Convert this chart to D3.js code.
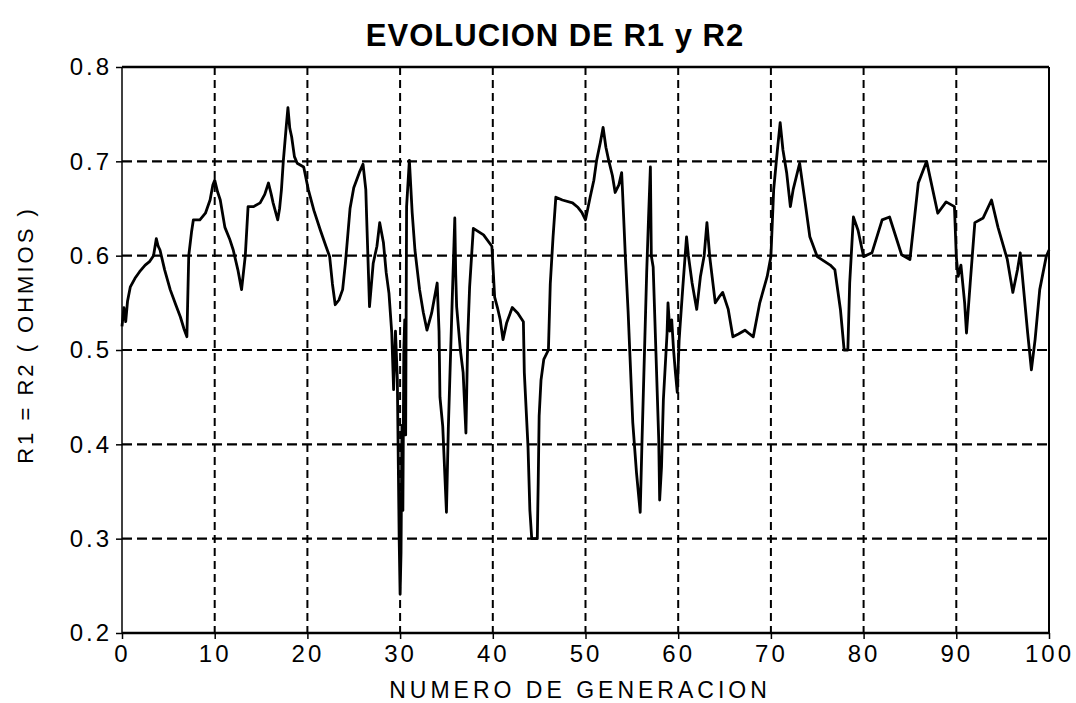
<!DOCTYPE html>
<html>
<head>
<meta charset="utf-8">
<script src="https://cdn.jsdelivr.net/npm/d3@7"></script>
<style>
  body { margin: 0; background: #fff; }
  svg { display: block; }
  .tick text { font-family: "Liberation Sans", Arial, sans-serif; font-size: 24px; letter-spacing: 3px; fill: #000; }
</style>
</head>
<body>
<div id="chart"></div>
<script>
// generacion (eje x) y valor R1 = R2 en ohmios
const gen = [
  0, 0.2, 0.4, 0.6, 0.9, 1.4, 1.9, 2.5, 3.0, 3.4, 3.7, 3.9, 4.1, 4.6, 5.2, 5.8, 6.3, 6.7, 7.0, 7.2,
  7.5, 7.7, 8.4, 9.0, 9.5, 9.8, 10.0, 10.3, 10.6, 11.1, 11.6, 12.0, 12.5, 12.9, 13.3, 13.6, 14.2, 14.9, 15.4, 15.8,
  16.1, 16.3, 16.8, 17.0, 17.2, 17.4, 17.7, 17.9, 18.1, 18.3, 18.6, 18.9, 19.6, 20.1, 20.7, 21.4, 22.0, 22.4, 22.7, 23.0,
  23.4, 23.8, 24.1, 24.6, 25.0, 25.6, 26.0, 26.3, 26.4, 26.7, 27.1, 27.5, 27.8, 28.2, 28.5, 28.8, 29.1, 29.3, 29.5, 29.7,
  29.9, 30.0, 30.1, 30.2, 30.3, 30.4, 30.5, 30.6, 30.7, 31.0, 31.3, 31.6, 32.1, 32.5, 32.9, 33.4, 34.0, 34.2, 34.3, 34.6,
  35.0, 35.2, 35.6, 35.9, 36.0, 36.1, 36.5, 36.8, 37.1, 37.3, 37.5, 37.9, 39.0, 39.9, 40.2, 40.5, 40.8, 41.1, 41.5, 42.1,
  42.7, 43.3, 43.4, 43.8, 44.0, 44.2, 44.8, 44.9, 45.0, 45.2, 45.5, 46.0, 46.2, 46.5, 46.8, 47.5, 48.6, 49.2, 49.6, 50.0,
  50.5, 50.9, 51.2, 51.6, 51.9, 52.2, 52.5, 52.9, 53.2, 53.6, 53.9, 54.0, 54.3, 54.6, 54.8, 55.1, 55.5, 55.9, 56.1, 56.4,
  56.6, 56.8, 57.0, 57.1, 57.3, 57.6, 57.9, 58.0, 58.2, 58.4, 58.8, 58.9, 59.1, 59.3, 59.5, 59.7, 59.9, 60.1, 60.2, 60.5,
  60.9, 61.1, 61.5, 62.0, 62.4, 62.8, 63.1, 63.4, 64.0, 64.4, 64.8, 65.4, 65.9, 66.5, 67.2, 67.7, 68.1, 68.8, 69.6, 70.0,
  70.3, 70.7, 71.0, 71.3, 71.7, 72.1, 72.4, 73.1, 73.7, 74.2, 75.0, 76.4, 76.9, 77.5, 77.9, 78.3, 78.5, 78.9, 79.4, 80.0,
  80.9, 82.0, 82.8, 84.1, 85.0, 85.9, 86.8, 88.0, 88.9, 89.8, 90.0, 90.2, 90.5, 90.9, 91.1, 91.5, 92.0, 92.9, 93.8, 94.5,
  95.5, 96.1, 96.6, 96.9, 97.2, 97.7, 98.1, 98.5, 99.0, 99.7, 100
];
const r = [
  0.525, 0.545, 0.530, 0.552, 0.567, 0.576, 0.583, 0.590, 0.594, 0.600, 0.618, 0.610, 0.606, 0.585, 0.564, 0.548, 0.535, 0.522, 0.514, 0.600,
  0.625, 0.638, 0.638, 0.645, 0.659, 0.675, 0.680, 0.668, 0.659, 0.630, 0.618, 0.606, 0.585, 0.564, 0.600, 0.652, 0.652, 0.656, 0.665, 0.677,
  0.665, 0.656, 0.638, 0.650, 0.670, 0.700, 0.735, 0.757, 0.735, 0.726, 0.705, 0.698, 0.694, 0.670, 0.648, 0.627, 0.610, 0.599, 0.570, 0.548,
  0.553, 0.564, 0.592, 0.650, 0.672, 0.688, 0.697, 0.670, 0.638, 0.546, 0.592, 0.610, 0.635, 0.614, 0.582, 0.560, 0.518, 0.458, 0.520, 0.470,
  0.300, 0.241, 0.285, 0.420, 0.330, 0.500, 0.532, 0.410, 0.652, 0.701, 0.646, 0.606, 0.564, 0.540, 0.521, 0.539, 0.571, 0.520, 0.450, 0.419,
  0.328, 0.416, 0.546, 0.640, 0.580, 0.546, 0.500, 0.476, 0.412, 0.514, 0.567, 0.629, 0.622, 0.610, 0.556, 0.545, 0.532, 0.511, 0.529, 0.545,
  0.539, 0.530, 0.476, 0.397, 0.330, 0.300, 0.300, 0.360, 0.430, 0.468, 0.490, 0.500, 0.570, 0.620, 0.662, 0.659, 0.656, 0.651, 0.646, 0.638,
  0.662, 0.680, 0.701, 0.720, 0.736, 0.715, 0.701, 0.685, 0.667, 0.675, 0.688, 0.667, 0.599, 0.540, 0.493, 0.423, 0.370, 0.328, 0.405, 0.511,
  0.582, 0.640, 0.694, 0.600, 0.588, 0.497, 0.405, 0.341, 0.376, 0.447, 0.518, 0.550, 0.520, 0.532, 0.500, 0.476, 0.455, 0.510, 0.525, 0.567,
  0.620, 0.600, 0.571, 0.543, 0.578, 0.600, 0.635, 0.599, 0.550, 0.556, 0.561, 0.543, 0.514, 0.517, 0.521, 0.517, 0.514, 0.550, 0.578, 0.599,
  0.670, 0.712, 0.741, 0.712, 0.688, 0.652, 0.670, 0.698, 0.656, 0.620, 0.599, 0.590, 0.585, 0.543, 0.500, 0.500, 0.571, 0.641, 0.627, 0.599,
  0.603, 0.638, 0.641, 0.601, 0.596, 0.677, 0.700, 0.645, 0.657, 0.652, 0.599, 0.578, 0.590, 0.550, 0.518, 0.571, 0.635, 0.640, 0.659, 0.630,
  0.596, 0.561, 0.585, 0.603, 0.571, 0.518, 0.479, 0.511, 0.564, 0.599, 0.606
];
const xTicks = [0, 10, 20, 30, 40, 50, 60, 70, 80, 90, 100];
const yTicks = [0.2, 0.3, 0.4, 0.5, 0.6, 0.7, 0.8];

const W = 1076, H = 703;
const m = { top: 67, right: 27, bottom: 70, left: 122 };

const svg = d3.select("#chart").append("svg").attr("width", W).attr("height", H);

let x = d3.scaleLinear().domain([0, 100]).range([m.left, W - m.right]);
let y = d3.scaleLinear().domain([0.2, 0.8]).range([H - m.bottom, m.top]);

// rejilla punteada
svg.append("g").selectAll("line").data(xTicks.slice(1, -1)).join("line")
  .attr("x1", d => x(d)).attr("x2", d => x(d))
  .attr("y1", y(0.8)).attr("y2", y(0.2))
  .style("stroke", "#000").style("stroke-width", 2).style("stroke-dasharray", "8,5");
svg.append("g").selectAll("line").data(yTicks.slice(1, -1)).join("line")
  .attr("x1", x(0)).attr("x2", x(100))
  .attr("y1", d => y(d)).attr("y2", d => y(d))
  .style("stroke", "#000").style("stroke-width", 2.2).style("stroke-dasharray", "10,5");

// ejes
let xAxis = svg.append("g").attr("transform", "translate(0," + y(0.2) + ")")
  .call(d3.axisBottom(x).tickValues(xTicks).tickSize(6).tickPadding(6).tickFormat(d3.format("d")));
let yAxis = svg.append("g").attr("transform", "translate(" + x(0) + ",0)")
  .call(d3.axisLeft(y).tickValues(yTicks).tickSize(6).tickPadding(4).tickFormat(d3.format(".1f")));
xAxis.select(".domain").remove();
yAxis.select(".domain").remove();
xAxis.selectAll(".tick line").style("stroke-width", 1.5);
yAxis.selectAll(".tick line").style("stroke-width", 1.5);

// marco
svg.append("line").attr("x1", x(0)).attr("x2", x(100)).attr("y1", y(0.8)).attr("y2", y(0.8))
  .style("stroke", "#000").style("stroke-width", 2.5);
svg.append("line").attr("x1", x(0)).attr("x2", x(100)).attr("y1", y(0.2)).attr("y2", y(0.2))
  .style("stroke", "#000").style("stroke-width", 2.5);
svg.append("line").attr("x1", x(0)).attr("x2", x(0)).attr("y1", y(0.8)).attr("y2", y(0.2))
  .style("stroke", "#000").style("stroke-width", 1.5);
svg.append("line").attr("x1", x(100)).attr("x2", x(100)).attr("y1", y(0.8)).attr("y2", y(0.2))
  .style("stroke", "#000").style("stroke-width", 2);

// curva
let pts = gen.map((g, i) => [g, r[i]]);
svg.append("path").datum(pts)
  .attr("d", d3.line().x(d => x(d[0])).y(d => y(d[1])))
  .style("fill", "none").style("stroke", "#000").style("stroke-width", 2.8)
  .style("stroke-linejoin", "round");

// textos
svg.append("text").attr("x", 555).attr("y", 46).attr("text-anchor", "middle")
  .style("font-family", "Liberation Sans, Arial, sans-serif").style("font-weight", "bold")
  .style("font-size", "31px").style("letter-spacing", "1px")
  .text("EVOLUCION DE R1 y R2");
svg.append("text").attr("x", 580).attr("y", 698).attr("text-anchor", "middle")
  .style("font-family", "Liberation Sans, Arial, sans-serif").style("font-size", "23px")
  .style("letter-spacing", "4px")
  .text("NUMERO DE GENERACION");
svg.append("text").attr("transform", "translate(33,335) rotate(-90)").attr("text-anchor", "middle")
  .style("font-family", "Liberation Sans, Arial, sans-serif").style("font-size", "22px")
  .style("letter-spacing", "3px")
  .text("R1 = R2  ( OHMIOS )");
</script>
</body>
</html>
